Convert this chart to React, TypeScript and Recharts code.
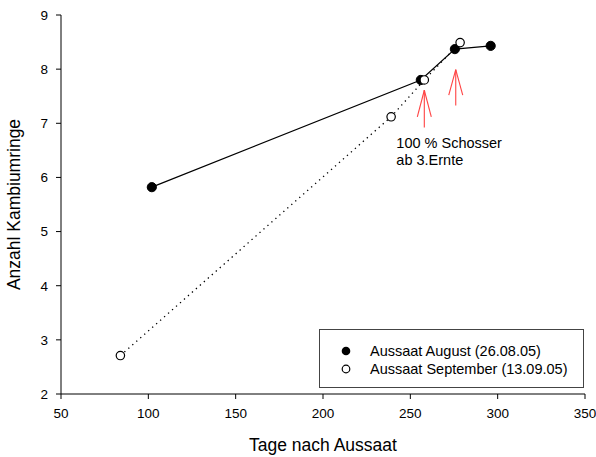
import React from "react";
import {
  ComposedChart,
  Scatter,
  XAxis,
  YAxis,
  ReferenceLine,
  ReferenceDot,
  Legend,
} from "recharts";

// Aussaat August (26.08.05)
const augustDays = [102, 256, 275.5, 296];
const augustRings = [5.82, 7.8, 8.37, 8.43];

// Aussaat September (13.09.05)
const septemberDays = [84, 239, 258, 278.5];
const septemberRings = [2.71, 7.12, 7.8, 8.49];

const xTicks = [50, 100, 150, 200, 250, 300, 350];
const yTicks = [2, 3, 4, 5, 6, 7, 8, 9];

// red arrows (Schosser)
const arrowDays = [258, 276];
const arrowTip = [7.61, 7.99];
const arrowBase = [6.92, 7.33];
const arrowWing = [7.12, 7.52];

const august = augustDays.map((x, i) => ({ x, y: augustRings[i] }));
const september = septemberDays.map((x, i) => ({ x, y: septemberRings[i] }));

const FONT = "'Liberation Sans', Arial, sans-serif";
const RED = "#ff4242";

const FilledDot = (props: any) => (
  <circle cx={props.cx} cy={props.cy} r={4.6} fill="#000" stroke="#000" />
);
const OpenDot = (props: any) => (
  <circle cx={props.cx} cy={props.cy} r={4.2} fill="#fff" stroke="#000" strokeWidth={1.2} />
);

const LegendBox = () => (
  <div
    style={{
      width: 263,
      height: 57,
      border: "1px solid #444",
      fontFamily: FONT,
      fontSize: 14.5,
      color: "#000",
      boxSizing: "content-box",
    }}
  >
    {[
      { name: "Aussaat August (26.08.05)", filled: true },
      { name: "Aussaat September (13.09.05)", filled: false },
    ].map((e, i) => (
      <div
        key={e.name}
        style={{
          position: "absolute",
          left: 0,
          top: i === 0 ? 13 : 31,
          height: 18,
          display: "flex",
          alignItems: "center",
        }}
      >
        <svg width={60} height={18}>
          {e.filled ? (
            <circle cx={27} cy={9} r={4.3} fill="#000" />
          ) : (
            <circle cx={27} cy={9} r={3.8} fill="#fff" stroke="#000" strokeWidth={1.2} />
          )}
        </svg>
        <span style={{ marginLeft: -9, whiteSpace: "nowrap" }}>{e.name}</span>
      </div>
    ))}
  </div>
);

const NoteLabel = (props: any) => {
  const { x, y } = props.viewBox;
  return (
    <text x={x} y={y} fontFamily={FONT} fontSize={14.5} fill="#000">
      <tspan x={x} dy={5}>100 % Schosser</tspan>
      <tspan x={x} dy={17}>ab 3.Ernte</tspan>
    </text>
  );
};

export default function App() {
  return (
    <div style={{ position: "absolute", left: 0, top: 0 }}>
      <ComposedChart
        width={596}
        height={457}
        margin={{ top: 15, right: 11, bottom: 0, left: 0 }}
        style={{ fontFamily: FONT }}
      >
        <XAxis
          type="number"
          dataKey="x"
          domain={[50, 350]}
          ticks={xTicks}
          allowDataOverflow
          height={63}
          stroke="#000"
          tickSize={5}
          tickMargin={9}
          tick={{ fill: "#000", fontSize: 13.5 }}
          label={{
            value: "Tage nach Aussaat",
            position: "insideBottom",
            offset: 6,
            fill: "#000",
            fontSize: 17.5,
          }}
        />
        <YAxis
          type="number"
          dataKey="y"
          domain={[2, 9]}
          ticks={yTicks}
          allowDataOverflow
          width={61}
          stroke="#000"
          tickSize={5}
          tickMargin={8}
          tick={{ fill: "#000", fontSize: 13.5 }}
          label={{
            value: "Anzahl Kambiumringe",
            angle: -90,
            position: "insideLeft",
            offset: 14,
            fill: "#000",
            fontSize: 17.5,
            style: { textAnchor: "middle" },
          }}
        />
        <Scatter
          name="Aussaat August (26.08.05)"
          data={august}
          line={{ stroke: "#000", strokeWidth: 1.2 }}
          shape={FilledDot}
          isAnimationActive={false}
        />
        <Scatter
          name="Aussaat September (13.09.05)"
          data={september}
          line={{ stroke: "#000", strokeWidth: 1.3, strokeDasharray: "1.3 4" }}
          shape={OpenDot}
          isAnimationActive={false}
        />
        {arrowDays.map((d, i) => (
          <ReferenceLine
            key={"shaft" + i}
            segment={[
              { x: d, y: arrowBase[i] },
              { x: d, y: arrowTip[i] },
            ]}
            stroke={RED}
            strokeWidth={1.1}
          />
        ))}
        {arrowDays.map((d, i) => (
          <ReferenceLine
            key={"wl" + i}
            segment={[
              { x: d - 4, y: arrowWing[i] },
              { x: d, y: arrowTip[i] },
            ]}
            stroke={RED}
            strokeWidth={1.1}
          />
        ))}
        {arrowDays.map((d, i) => (
          <ReferenceLine
            key={"wr" + i}
            segment={[
              { x: d + 4, y: arrowWing[i] },
              { x: d, y: arrowTip[i] },
            ]}
            stroke={RED}
            strokeWidth={1.1}
          />
        ))}
        <ReferenceDot x={242} y={6.63} r={0} stroke="none" fill="none" label={<NoteLabel />} />
        <Legend
          layout="horizontal"
          align="center"
          verticalAlign="middle"
          wrapperStyle={{ left: 319, top: 329, width: 265, height: 59 }}
          content={() => <LegendBox />}
        />
      </ComposedChart>
    </div>
  );
}
